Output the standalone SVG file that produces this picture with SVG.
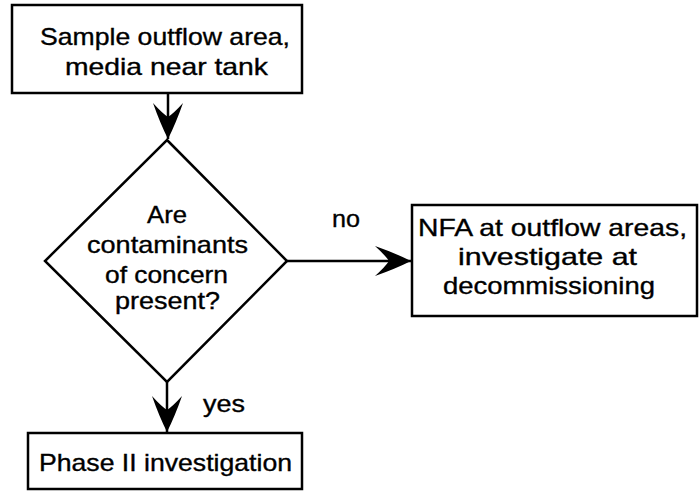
<svg xmlns="http://www.w3.org/2000/svg" width="699" height="492" viewBox="0 0 699 492">
<style>
.box{fill:#fff;stroke:#000;stroke-width:2.5}
.t{font-family:"Liberation Sans",Arial,sans-serif;font-size:24px;fill:#000;stroke:#000;stroke-width:0.35;text-anchor:start}
.c{fill:none;stroke:#000;stroke-width:2.5}
</style>
<defs>
<marker id="ah" markerUnits="userSpaceOnUse" markerWidth="40" markerHeight="34" viewBox="-38 -17 40 34" refX="0" refY="0" orient="auto">
<path d="M0,0 Q-16,-8 -36,-15 Q-26,-6 -22,0 Q-26,6 -36,15 Q-16,8 0,0 Z" fill="#000"/>
</marker>
</defs>
<rect width="699" height="492" fill="#fff"/>
<g id="connectors">
<line class="c" x1="168" y1="94" x2="168" y2="139" marker-end="url(#ah)"/>
<line class="c" x1="287" y1="261" x2="411" y2="261" marker-end="url(#ah)"/>
<line class="c" x1="167" y1="382" x2="167" y2="432" marker-end="url(#ah)"/>
<text class="t" x="332" y="227" textLength="28" lengthAdjust="spacingAndGlyphs">no</text>
<text class="t" x="203" y="412" textLength="42" lengthAdjust="spacingAndGlyphs">yes</text>
</g>
<g id="start">
<rect class="box" x="12" y="5" width="290" height="88"/>
<text class="t" x="40" y="45" textLength="250" lengthAdjust="spacingAndGlyphs">Sample outflow area,</text>
<text class="t" x="65" y="75" textLength="203" lengthAdjust="spacingAndGlyphs">media near tank</text>
</g>
<g id="decision">
<polygon class="box" points="167,140 287,261 167,382 45,261"/>
<text class="t" x="147" y="223" textLength="40" lengthAdjust="spacingAndGlyphs">Are</text>
<text class="t" x="87" y="253" textLength="161" lengthAdjust="spacingAndGlyphs">contaminants</text>
<text class="t" x="105" y="283" textLength="123" lengthAdjust="spacingAndGlyphs">of concern</text>
<text class="t" x="115" y="309" textLength="105" lengthAdjust="spacingAndGlyphs">present?</text>
</g>
<g id="nfa">
<rect class="box" x="412" y="205" width="285" height="111"/>
<text class="t" x="418" y="236" textLength="269" lengthAdjust="spacingAndGlyphs">NFA at outflow areas,</text>
<text class="t" x="458" y="265" textLength="179" lengthAdjust="spacingAndGlyphs">investigate at</text>
<text class="t" x="443" y="294" textLength="212" lengthAdjust="spacingAndGlyphs">decommissioning</text>
</g>
<g id="phase2">
<rect class="box" x="28" y="433" width="274" height="56"/>
<text class="t" x="39" y="471" textLength="253" lengthAdjust="spacingAndGlyphs">Phase II investigation</text>
</g>
</svg>
